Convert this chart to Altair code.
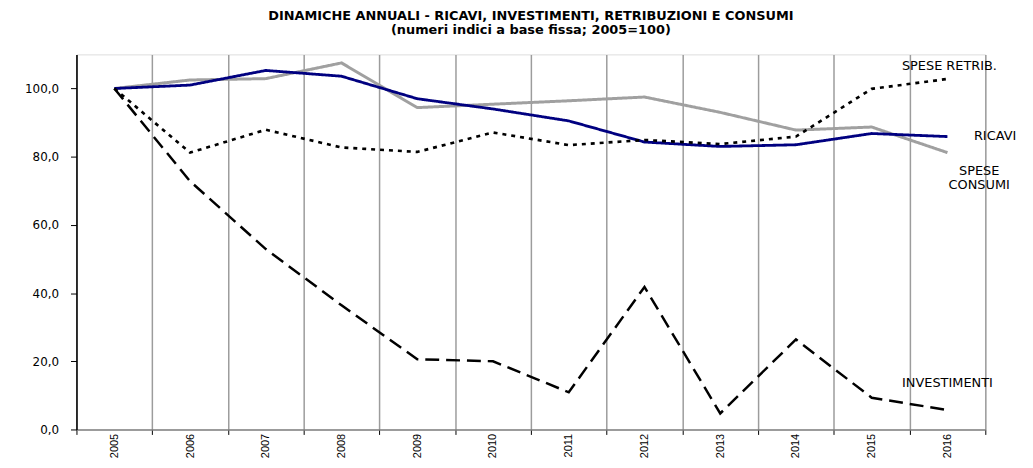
import altair as alt
import pandas as pd

years = [2005, 2006, 2007, 2008, 2009, 2010, 2011, 2012, 2013, 2014, 2015, 2016]
ricavi = [100.0, 101.0, 105.3, 103.6, 97.0, 94.0, 90.5, 84.3, 83.0, 83.5, 86.8, 85.9]
spese_consumi = [100.0, 102.5, 102.9, 107.5, 94.4, 95.4, 96.4, 97.5, 93.0, 87.8, 88.7, 81.2]
spese_retrib = [100.0, 81.2, 87.9, 82.7, 81.4, 87.1, 83.4, 84.9, 83.7, 85.9, 99.9, 102.8]
investimenti = [100.0, 72.8, 52.9, 36.4, 20.6, 20.0, 10.9, 41.8, 4.7, 26.4, 9.3, 5.7]

series_names = ["SPESE CONSUMI", "RICAVI", "SPESE RETRIB.", "INVESTIMENTI"]
series_vals = [spese_consumi, ricavi, spese_retrib, investimenti]

title_lines = ["DINAMICHE ANNUALI - RICAVI, INVESTIMENTI, RETRIBUZIONI  E CONSUMI",
               "(numeri indici a base fissa; 2005=100)"]

rows = []
for name, vals in zip(series_names, series_vals):
    for yr, v in zip(years, vals):
        rows.append({"year": yr, "value": v, "serie": name})
df = pd.DataFrame(rows)
last = df[df["year"] == years[-1]]

boundaries = [years[0] - 0.5] + [yr + 0.5 for yr in years]

FONT = "DejaVu Sans"

xscale = alt.Scale(domain=[years[0] - 0.5, years[-1] + 0.5], nice=False, zero=False)
yscale = alt.Scale(domain=[0, 110], nice=False, zero=True)
y_axis = alt.Axis(values=[0, 20, 40, 60, 80, 100], grid=False, title=None,
                  labelExpr="replace(format(datum.value, '.1f'), '.', ',')",
                  labelFont=FONT, labelFontSize=12, labelColor="black",
                  labelPadding=12, tickSize=6, tickColor="black", tickWidth=1,
                  domainColor="black", domainWidth=1.5)

lines = alt.Chart(df).mark_line(clip=False).encode(
    x=alt.X("year:Q", scale=xscale,
            axis=alt.Axis(values=boundaries, labels=False, ticks=True, tickSize=5,
                          tickColor="black", tickWidth=1, grid=True, gridColor="#9c9c9c",
                          gridWidth=1.5, domainColor="#808080", domainWidth=1.5,
                          title=None, orient="bottom")),
    y=alt.Y("value:Q", scale=yscale, axis=y_axis),
    color=alt.Color("serie:N", legend=None,
                    scale=alt.Scale(domain=series_names,
                                    range=["#a0a0a0", "#000080", "#000000", "#000000"])),
    strokeDash=alt.StrokeDash("serie:N", legend=None,
                              scale=alt.Scale(domain=series_names,
                                              range=[[1, 0], [1, 0], [4, 5], [14, 7]])),
    strokeWidth=alt.StrokeWidth("serie:N", legend=None,
                                scale=alt.Scale(domain=series_names,
                                                range=[3, 2.5, 2.5, 2.5])),
    detail="serie:N",
)

xlabels = alt.Chart(df[df["serie"] == "RICAVI"]).mark_point(opacity=0).encode(
    x=alt.X("year:Q", scale=xscale,
            axis=alt.Axis(values=years, format="d", labelAngle=-90, ticks=False,
                          grid=False, domain=False, labelPadding=4,
                          labelFont="Liberation Sans", labelFontSize=11,
                          labelColor="black", title=None, orient="bottom")),
    y=alt.Y("value:Q", scale=yscale, axis=y_axis),
)


def label(serie, text, dx, dy, align="center", line_break=None):
    kw = dict(font=FONT, fontSize=13, color="black", align=align, baseline="middle",
              dx=dx, dy=dy, text=text)
    if line_break:
        kw["lineBreak"] = line_break
        kw["lineHeight"] = 14
    return alt.Chart(last[last["serie"] == serie]).mark_text(**kw).encode(
        x=alt.X("year:Q", scale=xscale, axis=None),
        y=alt.Y("value:Q", scale=yscale, axis=y_axis),
    )


labels = [
    label("SPESE RETRIB.", "SPESE RETRIB.", 2, -13),
    label("RICAVI", "RICAVI", 48, -1),
    label("SPESE CONSUMI", "SPESE\nCONSUMI", 32, 19, line_break="\n"),
    label("INVESTIMENTI", "INVESTIMENTI", 0, -27),
]

chart = alt.layer(lines, xlabels, *labels).resolve_axis(x="independent").properties(
    width=916, height=378,
    title=alt.TitleParams(text=title_lines, font=FONT, fontSize=13, fontWeight="bold",
                          anchor="middle", color="black", offset=18, lineHeight=14),
    autosize=alt.AutoSizeParams(type="none"),
    padding={"left": 69, "top": 45, "right": 40, "bottom": 28},
).configure_view(stroke=None).configure(background="white")

chart.save("out.html", embed_options={"renderer": "svg", "actions": False})
